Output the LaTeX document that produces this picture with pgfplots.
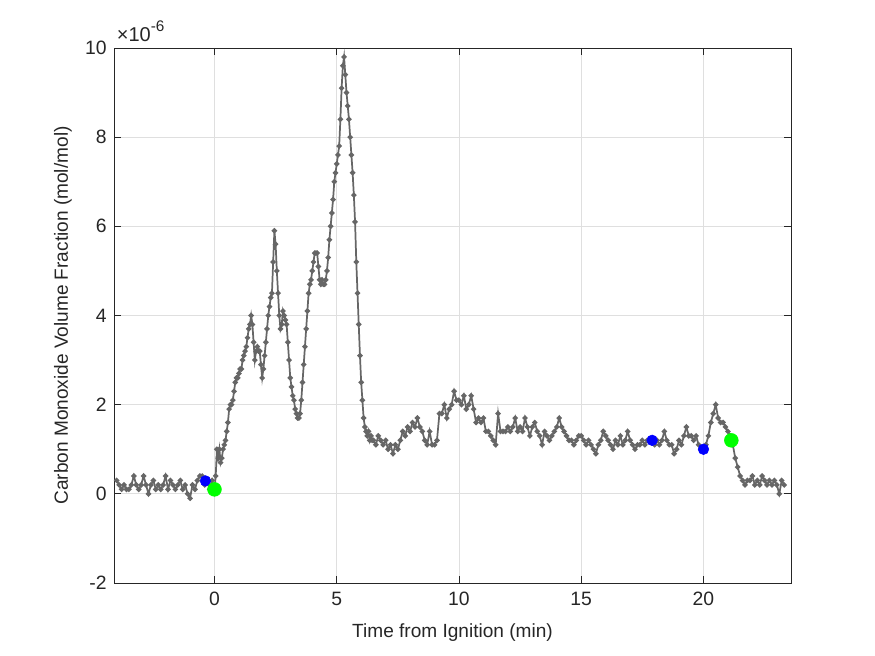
\documentclass[border=0pt]{standalone}
\usepackage{fontspec}
\setmainfont{Liberation Sans}
\usepackage{pgfplots}
\usepackage{pgfplotstable}
\pgfplotsset{compat=1.18}

\definecolor{axgray}{RGB}{38,38,38}
\definecolor{linegray}{RGB}{102,102,102}
\definecolor{gridgray}{RGB}{223,223,223}

% CO volume fraction, in units of 1e-6 mol/mol, vs. time from ignition (min)
\pgfplotstableread{
t v
-4.0 0.3
-3.9 0.2
-3.8 0.1
-3.7 0.2
-3.6 0.1
-3.5 0.1
-3.4 0.2
-3.3 0.4
-3.2 0.2
-3.1 0.1
-3.0 0.2
-2.9 0.4
-2.8 0.2
-2.7 0.0
-2.6 0.2
-2.5 0.3
-2.4 0.1
-2.3 0.2
-2.2 0.1
-2.1 0.2
-2.0 0.4
-1.9 0.1
-1.8 0.3
-1.7 0.2
-1.6 0.1
-1.5 0.2
-1.4 0.3
-1.3 0.1
-1.2 0.2
-1.1 0.0
-1.0 -0.1
-0.9 0.2
-0.8 0.1
-0.7 0.3
-0.6 0.4
-0.5 0.4
-0.4 0.2
-0.3 0.3
-0.2 0.1
-0.1 0.3
0.0 0.1
0.05 0.4
0.1 1.0
0.15 0.8
0.2 1.0
0.25 0.7
0.3 0.8
0.35 1.0
0.4 1.1
0.45 1.2
0.5 1.4
0.55 1.6
0.6 1.9
0.65 2.0
0.7 2.0
0.75 2.1
0.8 2.3
0.85 2.5
0.9 2.6
0.95 2.6
1.0 2.7
1.05 2.8
1.1 2.8
1.15 3.0
1.2 3.1
1.25 3.2
1.3 3.3
1.35 3.5
1.4 3.7
1.45 3.8
1.5 4.0
1.55 3.8
1.6 3.4
1.65 3.0
1.7 3.2
1.75 3.3
1.8 3.2
1.85 3.2
1.9 2.9
1.95 2.6
2.0 2.8
2.05 3.1
2.1 3.4
2.15 3.7
2.2 4.0
2.25 4.2
2.3 4.4
2.35 4.5
2.4 5.2
2.45 5.9
2.5 5.6
2.55 5.0
2.6 4.5
2.65 4.0
2.7 3.7
2.75 3.8
2.8 4.1
2.85 4.0
2.9 3.9
2.95 3.8
3.0 3.4
3.05 3.0
3.1 2.6
3.15 2.4
3.2 2.2
3.25 2.1
3.3 1.9
3.35 1.8
3.4 1.7
3.45 1.7
3.5 1.8
3.55 2.1
3.6 2.5
3.65 2.9
3.7 3.3
3.75 3.7
3.8 4.1
3.85 4.5
3.9 4.7
3.95 4.8
4.0 5.0
4.05 5.2
4.1 5.4
4.15 5.4
4.2 5.4
4.25 5.1
4.3 4.8
4.35 4.7
4.4 4.8
4.45 4.7
4.5 4.7
4.55 4.8
4.6 5.0
4.65 5.3
4.7 5.7
4.75 6.0
4.8 6.3
4.85 6.6
4.9 7.0
4.95 7.2
5.0 7.4
5.05 7.6
5.1 7.8
5.15 8.4
5.2 9.1
5.25 9.6
5.3 9.8
5.35 9.4
5.4 9.0
5.45 8.7
5.5 8.4
5.55 8.0
5.6 7.6
5.65 7.2
5.7 6.7
5.75 6.1
5.8 5.2
5.85 4.5
5.9 3.8
5.95 3.1
6.0 2.5
6.05 2.1
6.1 1.7
6.15 1.5
6.2 1.4
6.25 1.3
6.3 1.4
6.35 1.2
6.4 1.3
6.45 1.2
6.5 1.2
6.6 1.1
6.7 1.3
6.8 1.2
6.9 1.1
7.0 1.2
7.1 1.0
7.2 1.1
7.3 0.9
7.4 1.1
7.5 1.0
7.6 1.2
7.7 1.4
7.8 1.3
7.9 1.5
8.0 1.4
8.1 1.6
8.2 1.5
8.3 1.7
8.4 1.5
8.5 1.4
8.6 1.2
8.7 1.1
8.8 1.4
8.9 1.1
9.0 1.1
9.1 1.2
9.2 1.8
9.3 1.8
9.4 2.0
9.5 1.7
9.6 1.9
9.7 2.0
9.8 2.3
9.9 2.1
10.0 2.1
10.1 2.0
10.2 2.2
10.3 1.9
10.4 2.0
10.5 2.2
10.6 1.9
10.7 1.6
10.8 1.7
10.9 1.6
11.0 1.7
11.1 1.4
11.2 1.4
11.3 1.3
11.4 1.2
11.5 1.1
11.6 1.8
11.7 1.4
11.8 1.4
11.9 1.4
12.0 1.5
12.1 1.4
12.2 1.5
12.3 1.7
12.4 1.4
12.5 1.5
12.6 1.4
12.7 1.7
12.8 1.5
12.9 1.3
13.0 1.5
13.1 1.6
13.2 1.4
13.3 1.3
13.4 1.1
13.5 1.4
13.6 1.3
13.7 1.2
13.8 1.3
13.9 1.4
14.0 1.5
14.1 1.7
14.2 1.5
14.3 1.4
14.4 1.3
14.5 1.2
14.6 1.2
14.7 1.1
14.8 1.2
14.9 1.3
15.0 1.3
15.1 1.2
15.2 1.1
15.3 1.2
15.4 1.1
15.5 1.0
15.6 0.9
15.7 1.1
15.8 1.2
15.9 1.4
16.0 1.3
16.1 1.2
16.2 1.1
16.3 1.0
16.4 1.2
16.5 1.1
16.6 1.3
16.7 1.1
16.8 1.2
16.9 1.4
17.0 1.2
17.1 1.1
17.2 1.0
17.3 1.1
17.4 1.1
17.5 1.2
17.6 1.1
17.7 1.2
17.8 1.2
17.9 1.2
18.0 1.1
18.1 1.2
18.2 1.1
18.3 1.2
18.4 1.4
18.5 1.2
18.6 1.1
18.7 1.1
18.8 0.9
18.9 1.0
19.0 1.2
19.1 1.1
19.2 1.3
19.3 1.5
19.4 1.3
19.5 1.3
19.6 1.2
19.7 1.3
19.8 1.1
19.9 1.0
20.0 1.0
20.1 1.1
20.2 1.3
20.3 1.6
20.4 1.8
20.5 2.0
20.6 1.7
20.7 1.6
20.8 1.6
20.9 1.5
21.0 1.4
21.1 1.3
21.2 1.1
21.3 0.8
21.4 0.6
21.5 0.4
21.6 0.3
21.7 0.2
21.8 0.3
21.9 0.3
22.0 0.4
22.1 0.2
22.2 0.3
22.3 0.2
22.4 0.4
22.5 0.3
22.6 0.2
22.7 0.3
22.8 0.2
22.9 0.3
23.0 0.2
23.1 0.0
23.2 0.3
23.3 0.2
}\codata

\begin{document}
\begin{tikzpicture}
\useasboundingbox (0,0) rectangle (656.25pt,492pt);
\begin{axis}[
  name=main,
  at={(85.5pt,54.75pt)}, anchor=south west,
  scale only axis, width=507.75pt, height=401.25pt,
  xmin=-4.11, xmax=23.58, ymin=-2, ymax=10,
  xtick={0,5,10,15,20}, ytick={-2,0,2,4,6,8,10},
  grid=major, major grid style={gridgray, line width=0.5pt},
  axis line style={axgray, line width=0.6pt},
  tick style={axgray, line width=0.6pt},
  tick align=inside, major tick length=5pt,
  /pgf/number format/assume math mode=true,
  ticklabel style={font=\fontsize{14.5}{17}\selectfont, text=axgray},
  xticklabel style={yshift=-3pt},
  yticklabel style={xshift=-2pt},
  label style={font=\fontsize{14.3}{17}\selectfont, text=axgray},
  xlabel={Time from Ignition (min)},
  ylabel={Carbon Monoxide Volume Fraction (mol/mol)},
  xlabel style={at={(axis description cs:0.5,-0.0935)}, anchor=center},
  ylabel style={at={(axis description cs:-0.0753,0.5)}, anchor=center},
]
\addplot[linegray, line width=1.3pt, mark=*, mark size=1.3pt,
  mark options={fill=linegray, draw=linegray}] table[x=t, y=v] {\codata};
\addplot[only marks, mark=*, mark size=4pt, blue, mark options={fill=blue, draw=blue}]
  coordinates {(-0.37,0.29) (17.9,1.2) (20.0,1.0)};
\addplot[only marks, mark=*, mark size=5.2pt, green, mark options={fill=green, draw=green}]
  coordinates {(0.0,0.1) (21.14,1.2)};
\end{axis}
% exponent label of the y axis
\node[anchor=base west, inner sep=0pt, text=axgray,
  font=\fontsize{15}{18}\selectfont]
  at ([xshift=2pt, yshift=4.5pt]main.north west)
  {×10\raisebox{0.5em}{\fontsize{11.5}{13}\selectfont -6}};
\end{tikzpicture}
\end{document}
